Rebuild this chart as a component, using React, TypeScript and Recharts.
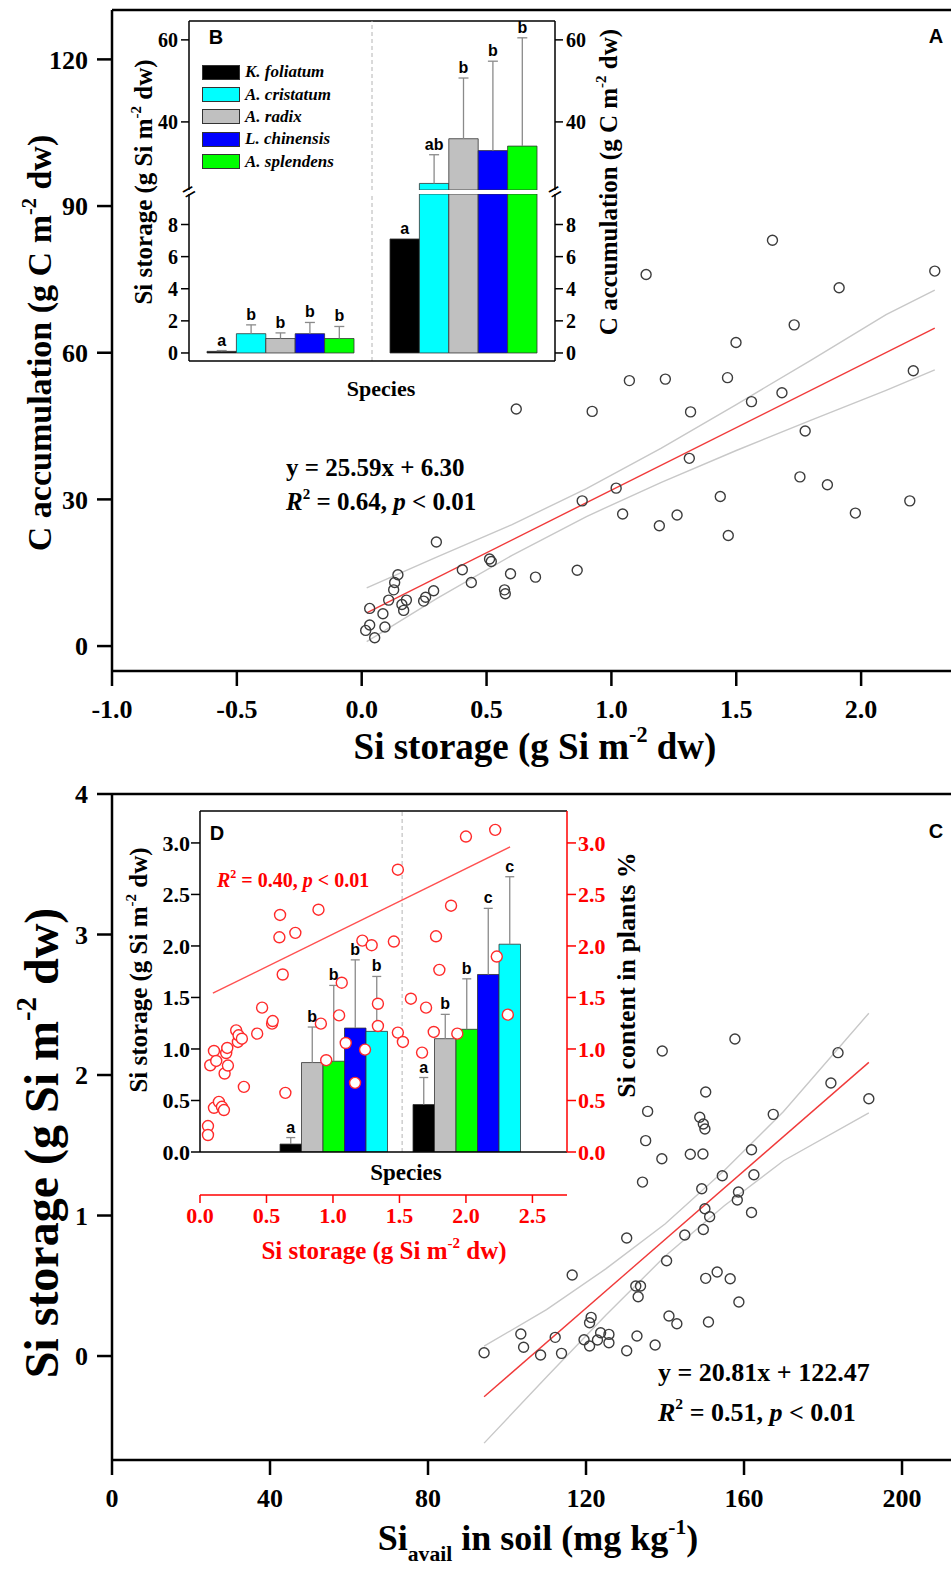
import React from "react";
import {
  ComposedChart,
  Scatter,
  Bar,
  XAxis,
  YAxis,
  ReferenceLine,
  LabelList,
  Legend,
} from "recharts";

// ---------- panel A: Si storage vs C accumulation ----------
const siA = [0.016, 0.032, 0.052, 0.093, 0.032, 0.085, 0.108, 0.128, 0.132, 0.145, 0.161, 0.168, 0.179, 0.248, 0.256, 0.288, 0.299, 0.403, 0.439, 0.512, 0.519, 0.572, 0.575, 0.596, 0.619, 0.696, 0.863, 0.883, 0.923, 1.019, 1.045, 1.072, 1.139, 1.192, 1.216, 1.263, 1.312, 1.317, 1.436, 1.465, 1.468, 1.499, 1.561, 1.645, 1.683, 1.732, 1.755, 1.776, 1.865, 1.912, 1.977, 2.195, 2.209, 2.295];
const cA = [3.2, 4.3, 1.7, 3.9, 7.7, 6.6, 9.4, 11.5, 13.0, 14.6, 8.5, 7.3, 9.4, 9.2, 10.0, 11.3, 21.3, 15.6, 13.0, 17.8, 17.3, 11.5, 10.7, 14.8, 48.5, 14.1, 15.5, 29.7, 48.0, 32.3, 27.0, 54.3, 76.0, 24.6, 54.6, 26.8, 38.4, 47.9, 30.6, 54.9, 22.6, 62.1, 50.0, 83.0, 51.8, 65.7, 34.6, 44.0, 33.0, 73.3, 27.2, 29.7, 56.3, 76.7];
const fitXA = [0.02, 2.295];
const fitYA = [6.81, 65.03];
const bandXA = [0.02, 0.3, 0.6, 0.9, 1.2, 1.5, 1.8, 2.1, 2.295];
const bandHiA = [11.9, 18.2, 24.8, 32.2, 40.5, 49.4, 58.5, 67.8, 72.8];
const bandLoA = [0.9, 9.7, 18.5, 26.5, 33.5, 40.0, 46.2, 52.3, 56.5];
const xTicksA = [-1, -0.5, 0, 0.5, 1, 1.5, 2];
const yTicksA = [0, 30, 60, 90, 120];

// ---------- inset B: bars per species ----------
const speciesB = ["K. foliatum", "A. cristatum", "A. radix", "L. chinensis", "A. splendens"];
const colorsB = ["#000000", "#00ffff", "#c0c0c0", "#0000ff", "#00ff00"];
const groupsB = ["Si storage", "C accumulation"];
const siStorageB = [0.1, 1.2, 0.9, 1.2, 0.9];
const siStorageTopB = [0.15, 1.75, 1.25, 1.9, 1.65];
const cAccumB = [7.1, 25, 35.9, 33, 34.1];
const cAccumTopB = [7.1, 32, 50.7, 54.8, 60.5];
const lettersSiB = ["a", "b", "b", "b", "b"];
const lettersCB = ["a", "ab", "b", "b", "b"];

// ---------- panel C: soil Si vs Si storage ----------
const soilC = [157.7, 139.3, 183.8, 182.0, 191.6, 150.3, 135.6, 167.4, 148.8, 149.7, 150.1, 135.1, 146.4, 149.6, 139.2, 161.9, 134.3, 154.5, 162.5, 149.3, 158.6, 158.3, 161.9, 150.1, 151.3, 149.7, 145.0, 130.3, 140.4, 116.5, 150.3, 153.2, 156.5, 132.6, 133.8, 133.2, 158.7, 141.0, 143.0, 151.0, 121.3, 120.9, 103.5, 112.2, 123.7, 125.8, 119.5, 122.9, 125.8, 120.9, 132.9, 137.5, 104.2, 108.5, 113.8, 130.3, 94.2];
const siC = [2.256, 2.171, 2.159, 1.943, 1.831, 1.879, 1.741, 1.72, 1.699, 1.651, 1.616, 1.533, 1.436, 1.438, 1.404, 1.468, 1.238, 1.283, 1.29, 1.191, 1.167, 1.11, 1.022, 1.048, 0.991, 0.901, 0.861, 0.84, 0.678, 0.577, 0.553, 0.598, 0.55, 0.498, 0.498, 0.422, 0.384, 0.285, 0.23, 0.242, 0.275, 0.237, 0.157, 0.133, 0.166, 0.154, 0.116, 0.114, 0.095, 0.071, 0.142, 0.078, 0.062, 0.007, 0.019, 0.038, 0.023];
const fitXC = [94.2, 191.6];
const fitYC = [-0.29, 2.09];
const bandXC = [94.2, 110, 125, 140, 155, 170, 191.6];
const bandHiC = [0.07, 0.33, 0.62, 0.94, 1.32, 1.74, 2.44];
const bandLoC = [-0.62, -0.15, 0.29, 0.71, 1.07, 1.39, 1.73];
const xTicksC = [0, 40, 80, 120, 160, 200];
const yTicksC = [0, 1, 2, 3, 4];

// ---------- inset D ----------
const speciesD = ["K. foliatum", "A. radix", "A. splendens", "L. chinensis", "A. cristatum"];
const colorsD = ["#000000", "#c0c0c0", "#00ff00", "#0000ff", "#00ffff"];
const groupsD = ["Si storage", "Si content"];
const siStorageD = [0.077, 0.868, 0.881, 1.203, 1.171];
const siStorageTopD = [0.14, 1.213, 1.617, 1.865, 1.704];
const siContentD = [0.461, 1.1, 1.191, 1.723, 2.017];
const siContentTopD = [0.723, 1.336, 1.681, 2.365, 2.672];
const lettersStorageD = ["a", "b", "b", "b", "b"];
const lettersContentD = ["a", "b", "b", "c", "c"];
const redX = [0.06, 0.06, 0.077, 0.105, 0.122, 0.105, 0.142, 0.165, 0.18, 0.185, 0.197, 0.205, 0.21, 0.272, 0.285, 0.29, 0.315, 0.33, 0.43, 0.467, 0.542, 0.547, 0.602, 0.597, 0.622, 0.642, 0.717, 0.891, 0.909, 0.949, 1.046, 1.066, 1.096, 1.166, 1.221, 1.241, 1.291, 1.338, 1.338, 1.458, 1.488, 1.488, 1.526, 1.586, 1.67, 1.7, 1.758, 1.775, 1.8, 1.888, 1.935, 2.0, 2.22, 2.232, 2.315];
const redY = [0.252, 0.165, 0.842, 0.981, 0.884, 0.429, 0.487, 0.439, 0.407, 0.762, 0.961, 1.01, 0.839, 1.181, 1.068, 1.133, 1.1, 0.632, 1.149, 1.401, 1.246, 1.271, 2.301, 2.084, 1.723, 0.574, 2.127, 2.352, 1.246, 0.891, 1.326, 1.643, 1.058, 0.671, 2.052, 0.994, 2.007, 1.439, 1.223, 2.043, 2.74, 1.159, 1.068, 1.488, 0.965, 1.401, 1.165, 2.094, 1.768, 2.391, 1.149, 3.062, 3.127, 1.897, 1.333];
const redFitX = [0.097, 2.332];
const redFitY = [1.542, 2.962];
const ticksD = [0, 0.5, 1, 1.5, 2, 2.5, 3];
const redXTicks = [0, 0.5, 1, 1.5, 2, 2.5];

// ---------- helpers ----------
const serif = '"Liberation Serif", "Times New Roman", serif';
const sans = '"Liberation Sans", Arial, sans-serif';
const zip = (xs: number[], ys: number[]) => xs.map((x, i) => ({ x, y: ys[i] }));
const f1 = (v: number) => v.toFixed(1);

const bigTick = { fill: "#000", fontSize: 26, fontWeight: 700, fontFamily: serif };
const thick = { stroke: "#000", strokeWidth: 2.5 };
const thin = { stroke: "#000", strokeWidth: 1.5 };
const redThin = { stroke: "#ff0000", strokeWidth: 1.5 };
const grayLine = { stroke: "#c8c8c8", strokeWidth: 1.4 };
const redLine = { stroke: "#f03a3a", strokeWidth: 1.4 };

const noDot = () => <g />;
const ring = (stroke: string, fill: string, r: number) => (p: any) => (
  <circle cx={p.cx} cy={p.cy} r={r} fill={fill} stroke={stroke} strokeWidth={1.4} />
);

const whisker = (cap: number) => (p: any) => {
  if (!p.height || p.height < 0.5) return <g />;
  const cx = p.x + p.width / 2;
  return (
    <g stroke="#8a8a8a" strokeWidth={1.3}>
      <line x1={cx} x2={cx} y1={p.y} y2={p.y + p.height} />
      <line x1={cx - cap / 2} x2={cx + cap / 2} y1={p.y} y2={p.y} />
    </g>
  );
};

// letter drawn above the whisker; only when the whisker top lies inside this chart's value range
const letter = (tops: number[], lo: number, hi: number) => (props: any) => {
  const t = tops[props.index];
  if (t == null || t < lo || t > hi) return null;
  const vb = props.viewBox || {};
  const x = vb.x ?? props.x;
  const y = vb.y ?? props.y;
  const w = vb.width ?? props.width;
  return (
    <text x={x + w / 2} y={y - 5} textAnchor="middle" fontFamily={sans} fontWeight={700} fontSize={16} fill="#000">
      {props.value}
    </text>
  );
};

function buildRows(groups: string[], vals: number[][], tops: number[][], letters: string[][]) {
  return groups.map((g, gi) => {
    const row: any = { group: g };
    vals[gi].forEach((v, si) => {
      row[`v${si}`] = v;
      row[`g${si}`] = tops[gi][si] - v;
      row[`l${si}`] = letters[gi][si];
    });
    return row;
  });
}

const topsB = [siStorageTopB, cAccumTopB];
const topsD = [siStorageTopD, siContentTopD];
const rowsB = buildRows(groupsB, [siStorageB, cAccumB], topsB, [lettersSiB, lettersCB]);
const rowsD = buildRows(groupsD, [siStorageD, siContentD], topsD, [lettersStorageD, lettersContentD]);

function speciesBars(names: string[], colors: string[], tops: number[][], lo: number, hi: number, cap: number) {
  const out: React.ReactNode[] = [];
  names.forEach((n, i) => {
    out.push(
      <Bar key={`v${i}`} xAxisId="cat" yAxisId="left" dataKey={`v${i}`} stackId={`s${i}`} name={n} fill={colors[i]} stroke="#333" strokeWidth={0.8} isAnimationActive={false} />
    );
    out.push(
      <Bar key={`g${i}`} xAxisId="cat" yAxisId="left" dataKey={`g${i}`} stackId={`s${i}`} legendType="none" fill="none" shape={whisker(cap)} isAnimationActive={false}>
        <LabelList dataKey={`l${i}`} content={letter(tops.map((t) => t[i]), lo, hi)} />
      </Bar>
    );
  });
  return out;
}

const Sup = ({ children }: { children: React.ReactNode }) => (
  <span style={{ fontSize: "0.6em", position: "relative", top: "-0.75em" }}>{children}</span>
);
const Sub = ({ children }: { children: React.ReactNode }) => (
  <span style={{ fontSize: "0.6em", position: "relative", top: "0.5em" }}>{children}</span>
);

type TxtProps = { x: number; y: number; size: number; rot?: boolean; color?: string; font?: string; left?: boolean; children: React.ReactNode };
function Txt({ x, y, size, rot, color = "#000", font = serif, left, children }: TxtProps) {
  return (
    <div
      style={{
        position: "absolute",
        left: x,
        top: y,
        transform: `translate(${left ? "0" : "-50%"}, -50%)${rot ? " rotate(-90deg)" : ""}`,
        whiteSpace: "nowrap",
        fontSize: size,
        lineHeight: 1,
        fontWeight: 700,
        color,
        fontFamily: font,
      }}
    >
      {children}
    </div>
  );
}

const legendB = (props: any) => {
  const items = (props.payload || [])
    .filter((p: any) => p.type !== "none" && speciesB.includes(p.value))
    .slice()
    .sort((a: any, b: any) => speciesB.indexOf(a.value) - speciesB.indexOf(b.value));
  return (
    <div>
      {items.map((p: any) => (
        <div key={p.value} style={{ display: "flex", alignItems: "center", height: 22.4 }}>
          <span style={{ display: "inline-block", width: 36, height: 13, background: p.color, border: "1px solid #333", marginRight: 5 }} />
          <span style={{ fontStyle: "italic", fontWeight: 700, fontSize: 17, fontFamily: serif, color: "#000" }}>{p.value}</span>
        </div>
      ))}
    </div>
  );
};

// ---------- charts ----------
function PanelA() {
  return (
    <ComposedChart width={952} height={780} margin={{ top: 10, right: 1, bottom: 29, left: 0 }}>
      <XAxis type="number" dataKey="x" domain={[-1, 2.36]} allowDataOverflow ticks={xTicksA} interval={0} tickFormatter={f1} height={80} tickSize={15} tickMargin={14} tick={bigTick} axisLine={thick} tickLine={thick} />
      <YAxis type="number" dataKey="y" domain={[-5.1, 130.1]} allowDataOverflow ticks={yTicksA} interval={0} width={112} tickSize={15} tickMargin={9} tick={bigTick} axisLine={thick} tickLine={thick} />
      <ReferenceLine y={130.1} stroke="#000" strokeWidth={2.5} />
      <Scatter data={zip(bandXA, bandHiA)} line={grayLine} shape={noDot} isAnimationActive={false} />
      <Scatter data={zip(bandXA, bandLoA)} line={grayLine} shape={noDot} isAnimationActive={false} />
      <Scatter data={zip(fitXA, fitYA)} line={redLine} shape={noDot} isAnimationActive={false} />
      <Scatter data={zip(siA, cA)} shape={ring("#3c3c3c", "none", 5)} isAnimationActive={false} />
    </ComposedChart>
  );
}

function PanelC() {
  return (
    <ComposedChart width={952} height={800} margin={{ top: 24, right: 1, bottom: 30, left: 0 }}>
      <XAxis type="number" dataKey="x" domain={[0, 212.4]} allowDataOverflow ticks={xTicksC} interval={0} height={80} tickSize={15} tickMargin={14} tick={bigTick} axisLine={thick} tickLine={thick} />
      <YAxis type="number" dataKey="y" domain={[-0.74, 4]} allowDataOverflow ticks={yTicksC} interval={0} width={112} tickSize={15} tickMargin={9} tick={bigTick} axisLine={thick} tickLine={thick} />
      <ReferenceLine y={4} stroke="#000" strokeWidth={2.5} />
      <Scatter data={zip(bandXC, bandHiC)} line={grayLine} shape={noDot} isAnimationActive={false} />
      <Scatter data={zip(bandXC, bandLoC)} line={grayLine} shape={noDot} isAnimationActive={false} />
      <Scatter data={zip(fitXC, fitYC)} line={redLine} shape={noDot} isAnimationActive={false} />
      <Scatter data={zip(soilC, siC)} shape={ring("#3c3c3c", "none", 5)} isAnimationActive={false} />
    </ComposedChart>
  );
}

const insetTick = { fill: "#000", fontSize: 20, fontWeight: 700, fontFamily: serif };
const divider = { stroke: "#b4b4b4", strokeDasharray: "4 3" };

function InsetBUpper() {
  return (
    <ComposedChart width={540} height={200} data={rowsB} margin={{ top: 21, right: 0, bottom: 10, left: 0 }} barSize={29.4} barGap={0}>
      <XAxis xAxisId="cat" dataKey="group" type="category" hide />
      <YAxis yAxisId="left" type="number" domain={[23.4, 64.6]} allowDataOverflow ticks={[40, 60]} interval={0} width={79} tickSize={8} tickMargin={3} tick={insetTick} axisLine={thin} tickLine={thin} />
      <YAxis yAxisId="right" orientation="right" type="number" domain={[23.4, 64.6]} allowDataOverflow ticks={[40, 60]} interval={0} width={95} tickSize={8} tickMargin={3} tick={insetTick} axisLine={thin} tickLine={thin} />
      <ReferenceLine xAxisId="cat" yAxisId="left" y={64.6} stroke="#000" strokeWidth={1.5} />
      <ReferenceLine xAxisId="cat" yAxisId="left" x={groupsB[1]} position="start" {...divider} />
      {speciesBars(speciesB, colorsB, topsB, 23.4, 64.6, 10)}
      <Legend layout="vertical" align="center" verticalAlign="middle" content={legendB} wrapperStyle={{ left: 92, top: 61, width: "auto" }} />
    </ComposedChart>
  );
}

function InsetBLower() {
  return (
    <ComposedChart width={540} height={220} data={rowsB} margin={{ top: 4, right: 0, bottom: 9, left: 0 }} barSize={29.4} barGap={0}>
      <XAxis xAxisId="cat" dataKey="group" type="category" height={40} tick={false} tickLine={false} axisLine={thin} />
      <YAxis yAxisId="left" type="number" domain={[-0.5, 9.9]} allowDataOverflow ticks={[0, 2, 4, 6, 8]} interval={0} width={79} tickSize={8} tickMargin={3} tick={insetTick} axisLine={thin} tickLine={thin} />
      <YAxis yAxisId="right" orientation="right" type="number" domain={[-0.5, 9.9]} allowDataOverflow ticks={[0, 2, 4, 6, 8]} interval={0} width={95} tickSize={8} tickMargin={3} tick={insetTick} axisLine={thin} tickLine={thin} />
      <ReferenceLine xAxisId="cat" yAxisId="left" x={groupsB[1]} position="start" {...divider} />
      {speciesBars(speciesB, colorsB, topsB, -0.5, 9.9, 10)}
    </ComposedChart>
  );
}

const tickD = { fill: "#000", fontSize: 22, fontWeight: 700, fontFamily: serif };
const redTickD = { fill: "#ff0000", fontSize: 22, fontWeight: 700, fontFamily: serif };

function InsetD() {
  return (
    <ComposedChart width={560} height={480} data={rowsD} margin={{ top: 21, right: 0, bottom: 35, left: 0 }} barSize={21.5} barGap={0}>
      <XAxis xAxisId="cat" dataKey="group" type="category" padding={{ left: 67, right: 34 }} height={43} tick={false} tickLine={false} axisLine={thin} />
      <XAxis xAxisId="num" type="number" dataKey="x" domain={[0, 2.76]} allowDataOverflow ticks={redXTicks} interval={0} tickFormatter={f1} height={40} tickSize={8} tickMargin={4} tick={redTickD} axisLine={redThin} tickLine={redThin} />
      <YAxis yAxisId="left" type="number" domain={[0, 3.31]} allowDataOverflow ticks={ticksD} interval={0} tickFormatter={f1} width={90} tickSize={9} tickMargin={1} tick={tickD} axisLine={thin} tickLine={thin} />
      <YAxis yAxisId="right" orientation="right" type="number" dataKey="y" domain={[0, 3.31]} allowDataOverflow ticks={ticksD} interval={0} tickFormatter={f1} width={103} tickSize={9} tickMargin={2} tick={redTickD} axisLine={redThin} tickLine={redThin} />
      <ReferenceLine xAxisId="num" yAxisId="left" y={3.31} stroke="#000" strokeWidth={1.5} />
      <ReferenceLine xAxisId="num" yAxisId="left" x={1.52} {...divider} />
      {speciesBars(speciesD, colorsD, topsD, -Infinity, Infinity, 9)}
      <Scatter xAxisId="num" yAxisId="right" data={zip(redFitX, redFitY)} line={{ stroke: "#ff5050", strokeWidth: 1.4 }} shape={noDot} isAnimationActive={false} />
      <Scatter xAxisId="num" yAxisId="right" data={zip(redX, redY)} shape={ring("#ff2a2a", "#ffffff", 5.5)} isAnimationActive={false} />
    </ComposedChart>
  );
}

const breakMark = (x: number, y: number) => (
  <div style={{ position: "absolute", left: x, top: y, transform: "translate(-50%, -50%) rotate(-30deg)", fontSize: 22, lineHeight: 1, fontFamily: sans, color: "#000" }}>=</div>
);

export default function App() {
  return (
    <div style={{ position: "absolute", left: 0, top: 0, width: 952, height: 1570, background: "#fff", overflow: "hidden", fontFamily: serif }}>
      <div style={{ position: "absolute", left: 0, top: 0 }}>
        <PanelA />
      </div>
      <div style={{ position: "absolute", left: 0, top: 770 }}>
        <PanelC />
      </div>
      <div style={{ position: "absolute", left: 110, top: 0 }}>
        <InsetBUpper />
      </div>
      <div style={{ position: "absolute", left: 110, top: 190 }}>
        <InsetBLower />
      </div>
      <div style={{ position: "absolute", left: 110, top: 790 }}>
        <InsetD />
      </div>

      {breakMark(189, 192)}
      {breakMark(555, 192)}

      {/* panel letters */}
      <Txt x={936} y={36} size={20} font={sans}>A</Txt>
      <Txt x={216} y={37} size={20} font={sans}>B</Txt>
      <Txt x={936} y={831} size={20} font={sans}>C</Txt>
      <Txt x={217} y={833} size={20} font={sans}>D</Txt>

      {/* main axis titles */}
      <Txt x={40} y={343} size={34} rot>
        C accumulation (g C m<Sup>-2</Sup> dw)
      </Txt>
      <Txt x={535} y={746} size={37}>
        Si storage (g Si m<Sup>-2</Sup> dw)
      </Txt>
      <Txt x={42} y={1143} size={48} rot>
        Si storage (g Si m<Sup>-2</Sup> dw)
      </Txt>
      <Txt x={538} y={1538} size={36}>
        Si<Sub>avail</Sub> in soil (mg kg<Sup>-1</Sup>)
      </Txt>

      {/* inset B titles */}
      <Txt x={143} y={182} size={25} rot>
        Si storage (g Si m<Sup>-2</Sup> dw)
      </Txt>
      <Txt x={608} y={182} size={25} rot>
        C accumulation (g C m<Sup>-2</Sup> dw)
      </Txt>
      <Txt x={381} y={389} size={22}>Species</Txt>

      {/* inset D titles */}
      <Txt x={138} y={970} size={25} rot>
        Si storage (g Si m<Sup>-2</Sup> dw)
      </Txt>
      <Txt x={627} y={975} size={26} rot>
        Si content in plants %
      </Txt>
      <Txt x={406} y={1172} size={23}>Species</Txt>
      <Txt x={384} y={1250} size={25} color="#ff0000">
        Si storage (g Si m<Sup>-2</Sup> dw)
      </Txt>
      <Txt x={217} y={880} size={20} color="#ff0000" left>
        <i>R</i>
        <Sup>2</Sup> = 0.40, <i>p</i> &lt; 0.01
      </Txt>

      {/* regression texts */}
      <Txt x={286} y={467} size={25} left>
        y = 25.59x + 6.30
      </Txt>
      <Txt x={286} y={501} size={25} left>
        <i>R</i>
        <Sup>2</Sup> = 0.64, <i>p</i> &lt; 0.01
      </Txt>
      <Txt x={658} y={1373} size={26} left>
        y = 20.81x + 122.47
      </Txt>
      <Txt x={658} y={1413} size={26} left>
        <i>R</i>
        <Sup>2</Sup> = 0.51, <i>p</i> &lt; 0.01
      </Txt>
    </div>
  );
}
